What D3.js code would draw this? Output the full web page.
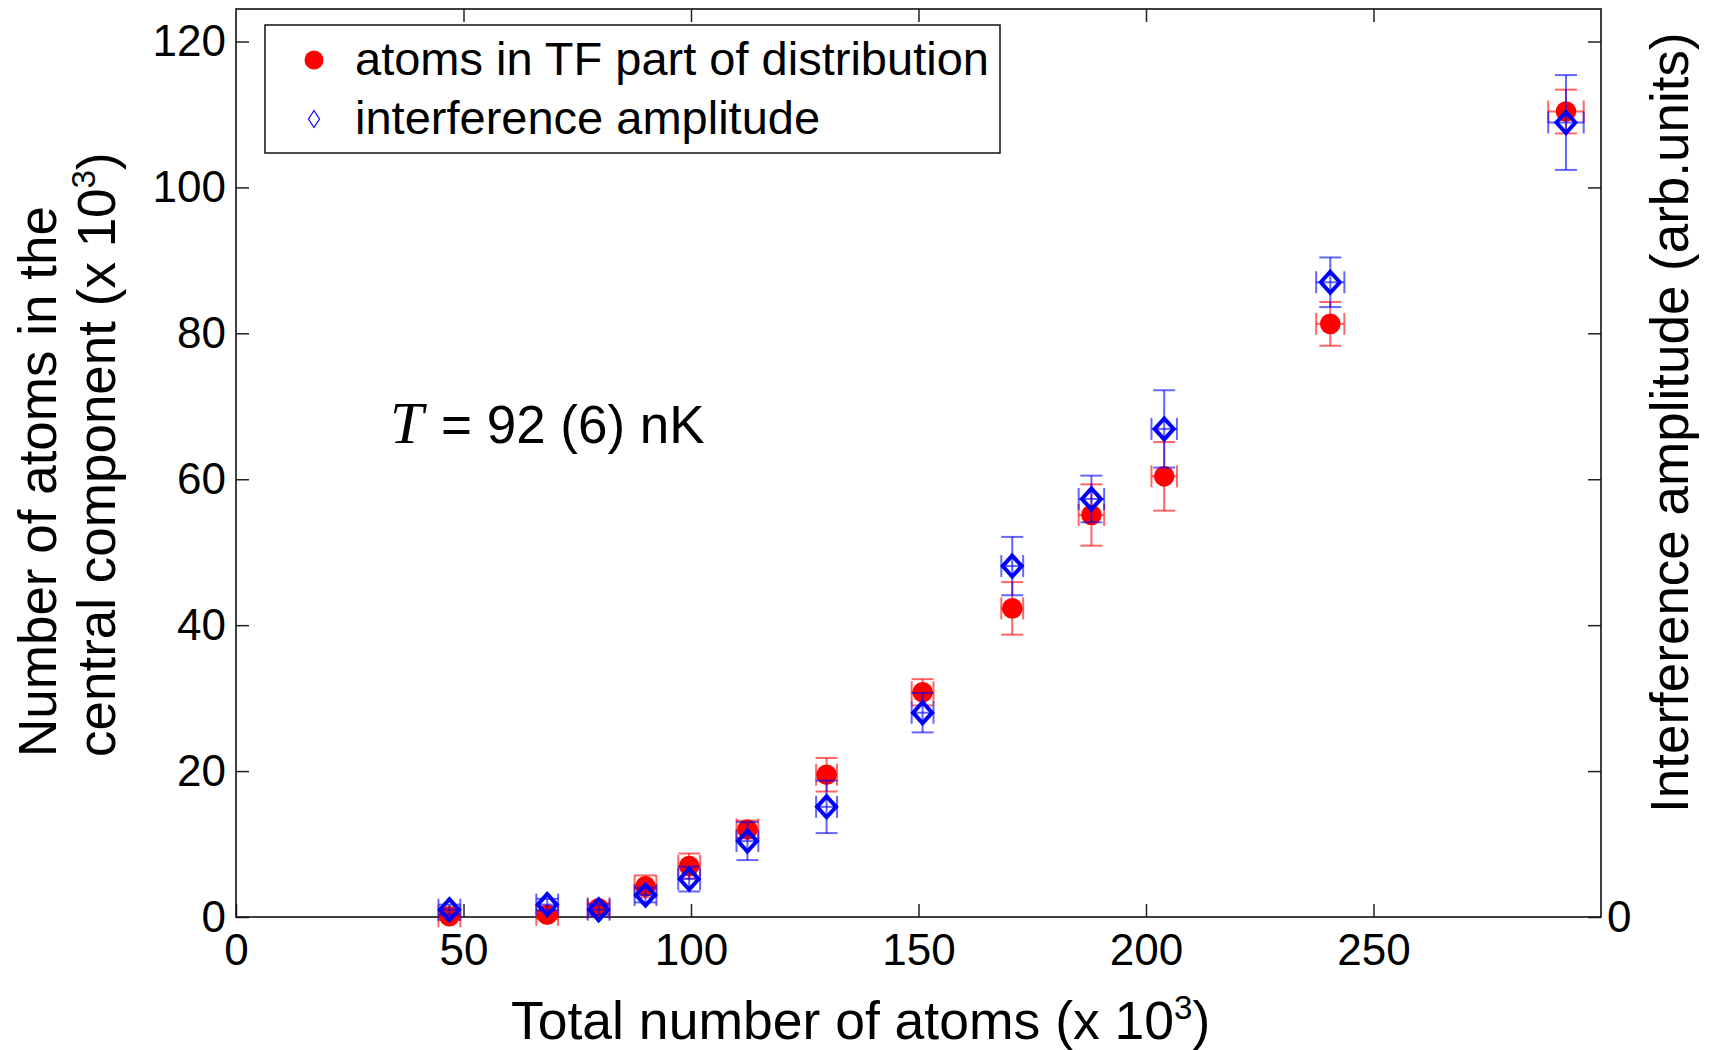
<!DOCTYPE html>
<html>
<head>
<meta charset="utf-8">
<script src="https://cdn.jsdelivr.net/npm/d3@7"></script>
<style>
  body { margin: 0; background: #fff; }
  svg { display: block; font-family: Arial, "Liberation Sans", sans-serif; }
</style>
</head>
<body>
<div id="chart"></div>
<script>
// ----------------------
// Data
// ----------------------
const totalAtoms = [46.9, 68.4, 79.7, 90.0, 99.6, 112.4, 129.8, 150.9, 170.6, 188.0, 204.0, 240.5, 292.3];
const totalErr   = [2.4, 2.4, 2.4, 2.4, 2.4, 2.4, 2.3, 2.4, 2.4, 2.8, 2.8, 3.1, 3.9];
const tfAtoms    = [0.1, 0.3, 1.2, 4.2, 7.0, 12.0, 19.5, 30.8, 42.3, 55.1, 60.4, 81.3, 110.4];
const tfErr      = [0.5, 0.6, 0.7, 1.5, 1.7, 1.2, 2.3, 1.8, 3.6, 4.2, 4.7, 3.0, 3.0];
const fringeAmp  = [1.0, 1.7, 1.0, 3.0, 5.2, 10.4, 15.1, 28.0, 48.1, 57.3, 66.9, 87.0, 108.9];
const fringeErr  = [0.7, 0.8, 0.7, 1.0, 1.7, 2.6, 3.6, 2.7, 4.0, 3.2, 5.3, 3.4, 6.5];

const xTicks = [0, 50, 100, 150, 200, 250];
const yTicks = [0, 20, 40, 60, 80, 100, 120];
const legendLabels = ["atoms in TF part of distribution", "interference amplitude"];

// ----------------------
// Layout
// ----------------------
const width = 1711, height = 1050;
const plot = { left: 236, right: 1601, top: 9, bottom: 917 };

const svg = d3.select("#chart")
    .append("svg")
    .attr("width", width)
    .attr("height", height);

const x = d3.scaleLinear().domain([0, 300]).range([plot.left, plot.right]);
const y = d3.scaleLinear().domain([0, 120]).range([plot.bottom, 41.5]);

// ----------------------
// Axes (ticks pointing inward on all four sides)
// ----------------------
const tickFont = 44;

const xAxis = svg.append("g")
    .attr("transform", `translate(0,${plot.bottom})`)
    .call(d3.axisBottom(x).tickValues(xTicks).tickSize(-13).tickPadding(17).tickFormat(d3.format("d")));

const xTop = svg.append("g")
    .attr("transform", `translate(0,${plot.top})`)
    .call(d3.axisTop(x).tickValues(xTicks.slice(1)).tickSize(-13).tickFormat(""));

const yAxis = svg.append("g")
    .attr("transform", `translate(${plot.left},0)`)
    .call(d3.axisLeft(y).tickValues(yTicks).tickSize(-13).tickPadding(10).tickFormat(d3.format("d")));

const yRight = svg.append("g")
    .attr("transform", `translate(${plot.right},0)`)
    .call(d3.axisRight(y).tickValues(yTicks).tickSize(-13).tickPadding(6)
        .tickFormat(d => d === 0 ? "0" : ""));

[xAxis, xTop, yAxis, yRight].forEach(g => {
    g.select(".domain").remove();
    g.selectAll(".tick line").attr("stroke", "#222").attr("stroke-width", 1.5);
    g.selectAll(".tick text")
        .attr("fill", "#000")
        .style("font-size", tickFont + "px")
        .style("font-family", "Arial, 'Liberation Sans', sans-serif");
});

// frame
svg.append("rect")
    .attr("x", plot.left)
    .attr("y", plot.top)
    .attr("width", plot.right - plot.left)
    .attr("height", plot.bottom - plot.top)
    .attr("fill", "none")
    .attr("stroke", "#111")
    .attr("stroke-width", 1.6);

// ----------------------
// Error bars + markers
// ----------------------
const points = totalAtoms.map((t, i) => ({
    x: t, xe: totalErr[i],
    tf: tfAtoms[i], tfe: tfErr[i],
    amp: fringeAmp[i], ampe: fringeErr[i]
}));

const capHalf = 11;

function errorBars(g, key, errKey, color) {
    const bars = g.selectAll("g.eb")
        .data(points)
        .enter()
        .append("g")
        .attr("stroke", color)
        .attr("stroke-width", 2)
        .attr("fill", "none");

    // vertical
    bars.append("line")
        .attr("x1", d => x(d.x)).attr("x2", d => x(d.x))
        .attr("y1", d => y(d[key] - d[errKey])).attr("y2", d => y(d[key] + d[errKey]));
    bars.append("line")
        .attr("x1", d => x(d.x) - capHalf).attr("x2", d => x(d.x) + capHalf)
        .attr("y1", d => y(d[key] + d[errKey])).attr("y2", d => y(d[key] + d[errKey]));
    bars.append("line")
        .attr("x1", d => x(d.x) - capHalf).attr("x2", d => x(d.x) + capHalf)
        .attr("y1", d => y(d[key] - d[errKey])).attr("y2", d => y(d[key] - d[errKey]));

    // horizontal
    bars.append("line")
        .attr("x1", d => x(d.x - d.xe)).attr("x2", d => x(d.x + d.xe))
        .attr("y1", d => y(d[key])).attr("y2", d => y(d[key]));
    bars.append("line")
        .attr("x1", d => x(d.x - d.xe)).attr("x2", d => x(d.x - d.xe))
        .attr("y1", d => y(d[key]) - capHalf).attr("y2", d => y(d[key]) + capHalf);
    bars.append("line")
        .attr("x1", d => x(d.x + d.xe)).attr("x2", d => x(d.x + d.xe))
        .attr("y1", d => y(d[key]) - capHalf).attr("y2", d => y(d[key]) + capHalf);
}

const redG = svg.append("g");
errorBars(redG, "tf", "tfe", "rgba(255,0,0,0.6)");
redG.selectAll("circle")
    .data(points)
    .enter()
    .append("circle")
    .attr("cx", d => x(d.x))
    .attr("cy", d => y(d.tf))
    .attr("r", 10.3)
    .attr("fill", "#ff0000");

const blueG = svg.append("g");
errorBars(blueG, "amp", "ampe", "rgba(0,0,255,0.6)");

const diamond = (cx, cy, w, h) => `M${cx},${cy - h}L${cx + w},${cy}L${cx},${cy + h}L${cx - w},${cy}Z`;

blueG.selectAll("path.dm")
    .data(points)
    .enter()
    .append("path")
    .attr("class", "dm")
    .attr("d", d => diamond(x(d.x), y(d.amp), 9.5, 10.5))
    .attr("fill", "none")
    .attr("stroke", "#0000ff")
    .attr("stroke-width", 4);

// ----------------------
// Legend
// ----------------------
const legend = svg.append("g");
legend.append("rect")
    .attr("x", 265).attr("y", 25)
    .attr("width", 735).attr("height", 128)
    .attr("fill", "#fff")
    .attr("stroke", "#111")
    .attr("stroke-width", 1.5);

legend.append("circle")
    .attr("cx", 314).attr("cy", 60)
    .attr("r", 9.5)
    .attr("fill", "#ff0000");

legend.append("path")
    .attr("d", diamond(314, 119, 5.5, 8.5))
    .attr("fill", "none")
    .attr("stroke", "#0000ff")
    .attr("stroke-width", 1.2);

legend.selectAll("text")
    .data(legendLabels)
    .enter()
    .append("text")
    .attr("x", 355)
    .attr("y", (d, i) => 75 + i * 59)
    .style("font-size", "47px")
    .text(d => d);

// ----------------------
// Annotation
// ----------------------
const note = svg.append("g");
note.append("text")
    .attr("x", 390).attr("y", 443)
    .style("font-family", "'Liberation Serif', 'Times New Roman', serif")
    .style("font-style", "italic")
    .style("font-size", "60px")
    .text("T");
note.append("text")
    .attr("x", 441).attr("y", 443)
    .style("font-size", "53px")
    .text("= 92 (6) nK");

// ----------------------
// Axis titles
// ----------------------
const xTitle = svg.append("text")
    .attr("x", 511).attr("y", 1039)
    .style("font-size", "53.5px");
xTitle.append("tspan").text("Total number of atoms (x 10");
xTitle.append("tspan").attr("dy", -20).style("font-size", "33px").text("3");
xTitle.append("tspan").attr("dy", 20).text(")");

const yTitle = svg.append("text")
    .attr("transform", "translate(56,757) rotate(-90)")
    .style("font-size", "53px");
yTitle.append("tspan").attr("x", 0).attr("y", 0).text("Number of atoms in the");
yTitle.append("tspan").attr("x", 0).attr("y", 59).text("central component (x 10");
yTitle.append("tspan").attr("dy", -20).style("font-size", "33px").text("3");
yTitle.append("tspan").attr("dy", 20).text(")");

svg.append("text")
    .attr("transform", "translate(1688,813) rotate(-90)")
    .style("font-size", "53px")
    .text("Interference amplitude (arb.units)");
</script>
</body>
</html>
